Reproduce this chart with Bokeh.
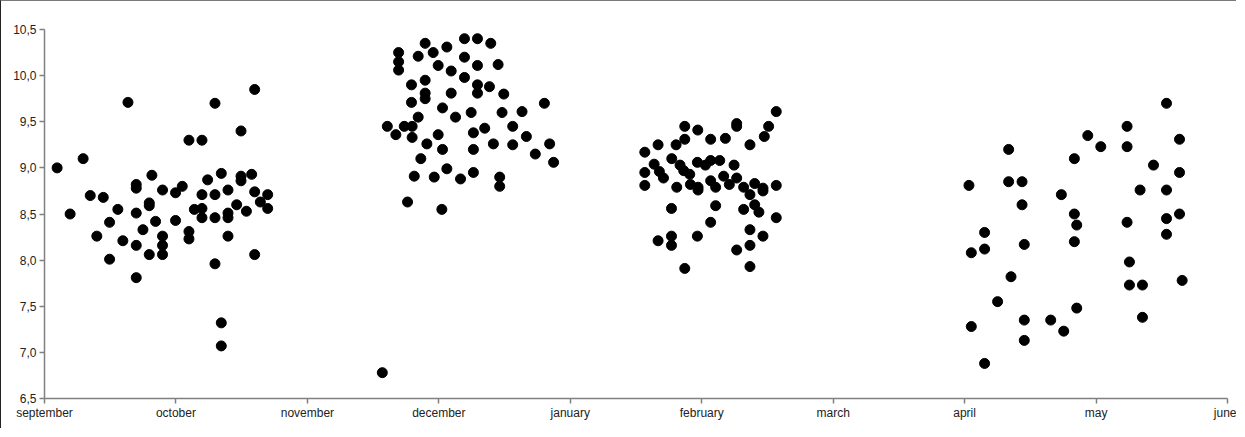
from bokeh.plotting import figure
from bokeh.models import Range1d, FixedTicker, CustomJSTickFormatter
from bokeh.embed import file_html
from bokeh.resources import INLINE

# x: position in months since 1 September; y: measured value
month_labels = ["september", "october", "november", "december", "january",
                "february", "march", "april", "may", "june"]

sep_oct_x = [0.096, 0.195, 0.294, 0.348, 0.447, 0.398, 0.495, 0.495, 0.558, 0.596,
             0.635, 0.698, 0.698, 0.698, 0.698, 0.698, 0.749, 0.797, 0.797, 0.797,
             0.817, 0.845, 0.898, 0.898, 0.898, 0.898, 0.997, 0.997, 1.048, 1.099,
             1.099, 1.099, 1.140, 1.198, 1.198, 1.198, 1.198, 1.241, 1.297, 1.297,
             1.297, 1.297, 1.345, 1.345, 1.345, 1.396, 1.396, 1.396, 1.396, 1.462,
             1.495, 1.495, 1.495, 1.536, 1.576, 1.599, 1.599, 1.599, 1.642, 1.698,
             1.698]
sep_oct_y = [9.00, 8.50, 9.10, 8.70, 8.68, 8.26, 8.41, 8.01, 8.55, 8.21,
             9.71, 8.82, 8.78, 8.51, 8.16, 7.81, 8.33, 8.62, 8.59, 8.06,
             8.92, 8.42, 8.76, 8.26, 8.16, 8.06, 8.73, 8.43, 8.80, 9.30,
             8.31, 8.23, 8.55, 9.30, 8.71, 8.56, 8.46, 8.87, 9.70, 8.71,
             8.46, 7.96, 8.94, 7.32, 7.07, 8.76, 8.51, 8.46, 8.26, 8.60,
             9.40, 8.91, 8.86, 8.53, 8.93, 9.85, 8.74, 8.06, 8.63, 8.71,
             8.56]

nov_dec_x = [2.570, 2.694, 2.694, 2.694, 2.896, 2.843, 2.957, 3.061, 3.195, 3.294,
             3.395, 3.195, 2.995, 3.094, 3.294, 3.451, 3.195, 2.896, 2.792, 3.294,
             3.385, 2.896, 2.896, 3.094, 3.294, 3.494, 2.792, 3.028, 3.803, 2.843,
             3.127, 3.246, 3.481, 3.633, 2.608, 2.673, 2.737, 2.797, 2.797, 2.995,
             3.263, 3.349, 3.562, 3.666, 2.909, 3.028, 3.263, 3.415, 3.562, 3.843,
             2.863, 3.734, 3.873, 3.061, 3.263, 2.813, 2.965, 3.165, 3.463, 3.463,
             2.762, 3.023]
nov_dec_y = [6.78, 10.25, 10.15, 10.06, 10.35, 10.21, 10.25, 10.31, 10.40, 10.40,
             10.35, 10.20, 10.11, 10.05, 10.11, 10.12, 9.98, 9.95, 9.90, 9.90,
             9.88, 9.81, 9.75, 9.81, 9.81, 9.80, 9.71, 9.65, 9.70, 9.55,
             9.55, 9.60, 9.60, 9.61, 9.45, 9.36, 9.45, 9.45, 9.33, 9.36,
             9.38, 9.43, 9.45, 9.34, 9.26, 9.20, 9.20, 9.26, 9.25, 9.26,
             9.10, 9.15, 9.06, 8.99, 8.95, 8.91, 8.90, 8.88, 8.90, 8.80,
             8.63, 8.55]

jan_feb_x = [4.567, 4.567, 4.567, 4.668, 4.638, 4.678, 4.709, 4.668, 4.770, 4.770,
             4.770, 4.772, 4.805, 4.835, 4.810, 4.871, 4.871, 4.863, 4.909, 4.914,
             4.871, 4.970, 4.967, 4.972, 4.972, 4.967, 5.028, 5.068, 5.068, 5.068,
             5.106, 5.106, 5.068, 5.137, 5.180, 5.167, 5.210, 5.246, 5.266, 5.266,
             5.266, 5.266, 5.319, 5.319, 5.367, 5.367, 5.367, 5.367, 5.367, 5.403,
             5.403, 5.435, 5.466, 5.466, 5.466, 5.476, 5.509, 5.567, 5.567, 5.567]
jan_feb_y = [9.17, 8.95, 8.81, 9.25, 9.04, 8.96, 8.89, 8.21, 8.56, 8.26,
             8.16, 9.10, 9.25, 9.03, 8.79, 9.45, 9.31, 8.97, 8.93, 8.82,
             7.91, 9.41, 9.06, 8.79, 8.76, 8.26, 9.03, 9.31, 9.08, 8.86,
             8.79, 8.59, 8.41, 9.08, 9.32, 8.91, 8.82, 9.03, 9.48, 9.45,
             8.89, 8.11, 8.79, 8.55, 9.25, 8.71, 8.33, 8.16, 7.93, 8.83,
             8.60, 8.52, 8.78, 8.75, 8.26, 9.34, 9.45, 9.61, 8.81, 8.46]

apr_may_x = [7.033, 7.051, 7.051, 7.152, 7.152, 7.152, 7.251, 7.335, 7.335, 7.437,
             7.437, 7.353, 7.454, 7.454, 7.454, 7.655, 7.754, 7.736, 7.835, 7.835,
             7.853, 7.835, 7.853, 7.937, 8.036, 8.236, 8.236, 8.236, 8.254, 8.254,
             8.353, 8.353, 8.335, 8.437, 8.536, 8.536, 8.536, 8.536, 8.635, 8.635,
             8.635, 8.655]
apr_may_y = [8.81, 8.08, 7.28, 8.30, 8.12, 6.88, 7.55, 9.20, 8.85, 8.85,
             8.60, 7.82, 8.17, 7.35, 7.13, 7.35, 7.23, 8.71, 9.10, 8.50,
             8.38, 8.20, 7.48, 9.35, 9.23, 9.45, 9.23, 8.41, 7.98, 7.73,
             7.73, 7.38, 8.76, 9.03, 9.70, 8.76, 8.45, 8.28, 9.31, 8.95,
             8.50, 7.78]

y_ticks = [6.5, 7.0, 7.5, 8.0, 8.5, 9.0, 9.5, 10.0, 10.5]

xs = sep_oct_x + nov_dec_x + jan_feb_x + apr_may_x
ys = sep_oct_y + nov_dec_y + jan_feb_y + apr_may_y

p = figure(width=1236, height=428, output_backend="svg", toolbar_location=None,
           x_range=Range1d(0, len(month_labels) - 1), y_range=Range1d(y_ticks[0], y_ticks[-1]),
           min_border_left=43, min_border_right=10, min_border_top=28, min_border_bottom=31)
p.styles = {"border-top": "1px solid #7a7a7a", "border-left": "1px solid #222222"}
p.outline_line_color = None
p.grid.visible = False
p.background_fill_color = "white"
p.border_fill_color = "white"

p.scatter(xs, ys, size=10, color="black", line_color="black")

font = "Liberation Sans"
for ax in (p.xaxis[0], p.yaxis[0]):
    ax.axis_line_color = "#808080"
    ax.axis_line_width = 1.5
    ax.major_tick_line_color = "#808080"
    ax.major_tick_line_width = 1.5
    ax.major_tick_out = 5
    ax.major_tick_in = 0
    ax.minor_tick_line_color = None
    ax.major_label_text_font = font
    ax.major_label_text_font_size = "12px"
    ax.major_label_text_color = "#222222"

p.xaxis.ticker = FixedTicker(ticks=list(range(len(month_labels))))
p.xaxis.formatter = CustomJSTickFormatter(args=dict(labels=month_labels),
                                          code="return labels[Math.round(tick)] || '';")
p.xaxis.major_label_standoff = 2
p.yaxis.ticker = FixedTicker(ticks=y_ticks)
p.yaxis.formatter = CustomJSTickFormatter(code="return tick.toFixed(1).replace('.', ',');")
p.yaxis.major_label_standoff = 3

open("out.html", "w").write(file_html(p, INLINE))
